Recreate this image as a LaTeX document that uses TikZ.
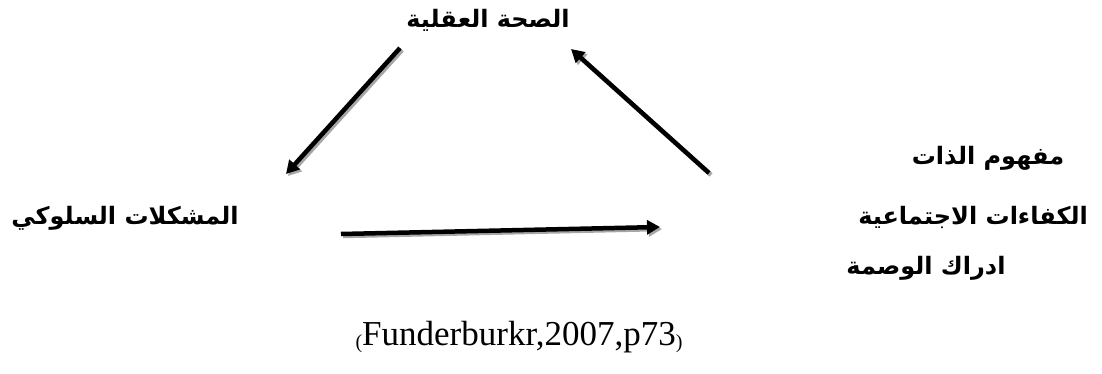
\documentclass[tikz,border=0pt]{standalone}
\usepackage{fontspec}
\setmainfont{Liberation Serif}
\newfontfamily\arabicfont[Script=Arabic]{DejaVu Sans}
\TeXXeTstate=1
\usetikzlibrary{arrows.meta}
\tikzset{
  lbl/.style={font=\arabicfont\bfseries\fontsize{24}{28}\selectfont, inner sep=0pt},
  arr/.style={line width=4.5pt, -{Triangle[length=13pt,width=14pt]}, draw=black},
  arrshadow/.style={arr, draw=gray!70, fill=gray!70, transform canvas={shift={(2pt,-2pt)}}},
}
\begin{document}
\begin{tikzpicture}[x=1pt,y=-1pt]
\useasboundingbox (0,0) rectangle (1102,374);
\node[lbl] (top) at (488,20) {\beginR الصحة العقلية\endR};
\node[lbl] (left) at (125,218) {\beginR المشكلات السلوكي\endR};
\node[lbl] (r1) at (988,158) {\beginR مفهوم الذات\endR};
\node[lbl] (r2) at (973,217) {\beginR الكفاءات الاجتماعية\endR};
\node[lbl] (r3) at (926,268) {\beginR ادراك الوصمة\endR};
\node[inner sep=0pt, font=\fontsize{35}{40}\selectfont] (cap) at (519,337)
  {\raisebox{-3pt}{\fontsize{20}{22}\selectfont(}Funderburkr,2007,p73\raisebox{-3pt}{\fontsize{20}{22}\selectfont)}};
\coordinate (a1s) at (400,48);
\coordinate (a1e) at (286,174);
\coordinate (a2s) at (709,173);
\coordinate (a2e) at (571,49);
\coordinate (a3s) at (341,234);
\coordinate (a3e) at (660,227);
\draw[arrshadow] (a1s) -- (a1e);
\draw[arrshadow] (a2s) -- (a2e);
\draw[arrshadow] (a3s) -- (a3e);
\draw[arr] (a1s) -- (a1e);
\draw[arr] (a2s) -- (a2e);
\draw[arr] (a3s) -- (a3e);
\end{tikzpicture}
\end{document}
